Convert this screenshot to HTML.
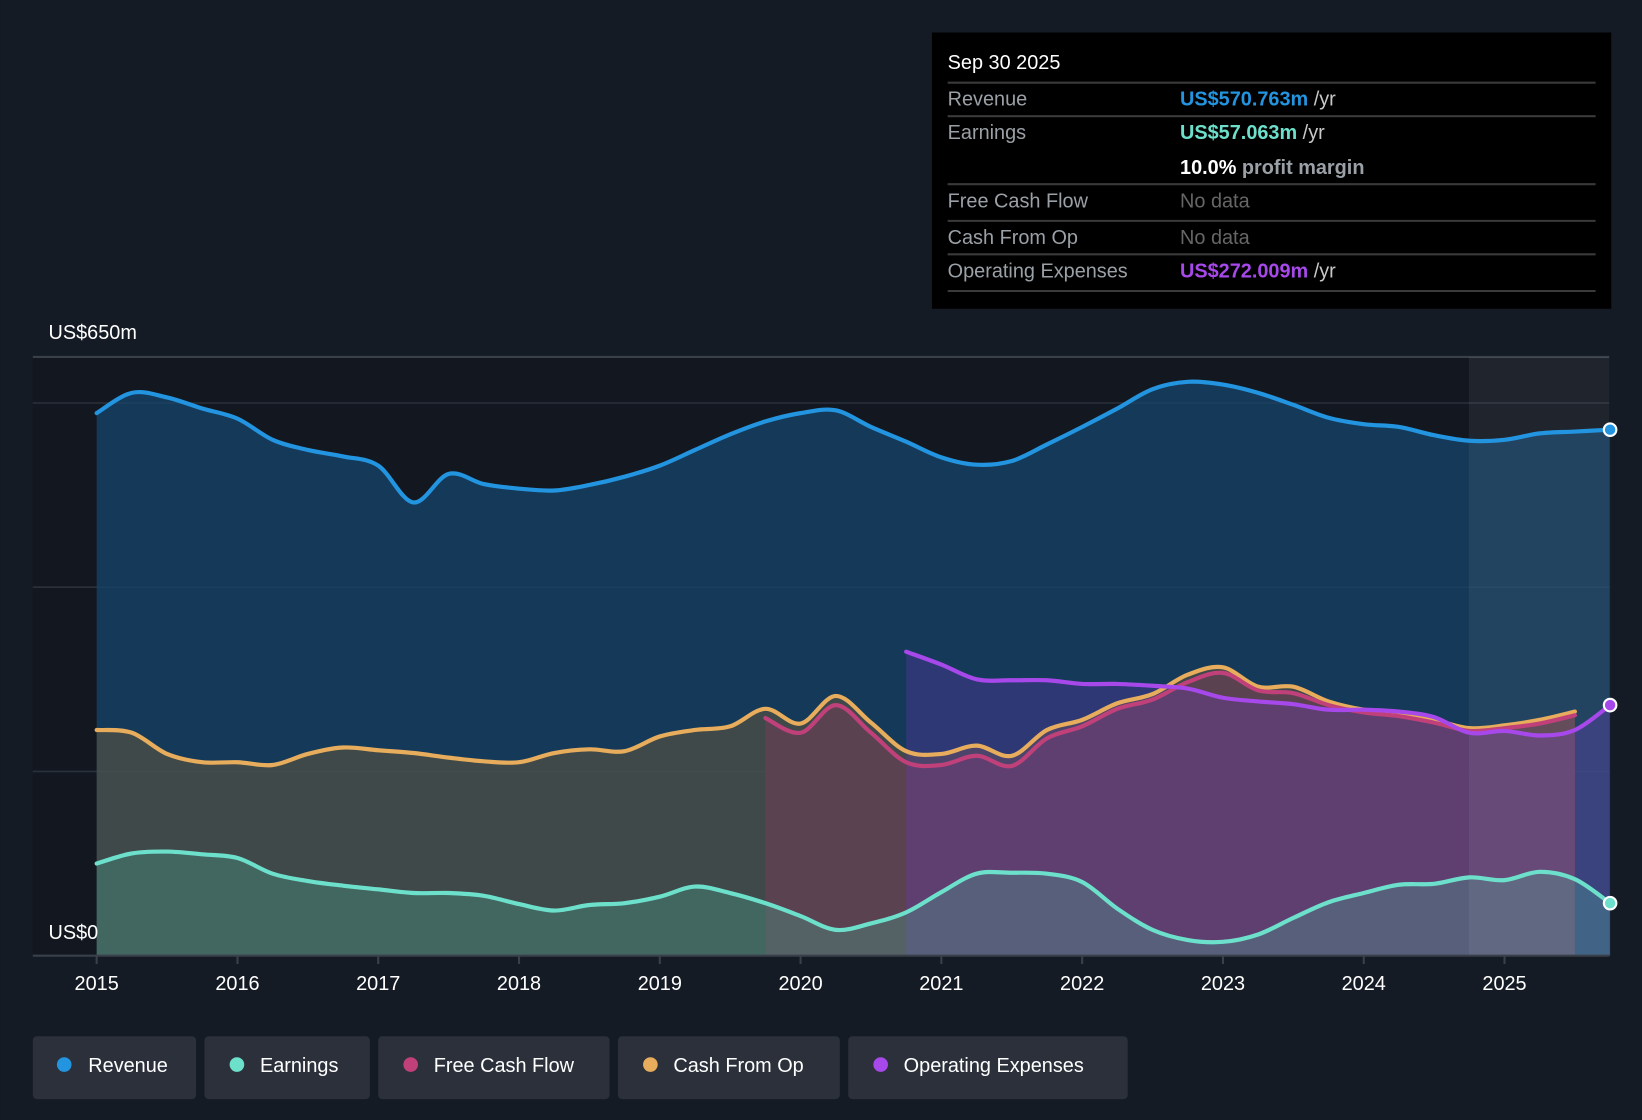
<!DOCTYPE html>
<html><head><meta charset="utf-8"><style>
html,body{margin:0;padding:0;background:#151b24;}
svg{display:block;font-family:"Liberation Sans",sans-serif;}
</style></head><body>
<svg id="chart" width="1642" height="1120" viewBox="0 0 1568 1070" xmlns="http://www.w3.org/2000/svg">
<rect x="0" y="0" width="1568" height="1070" fill="#151b24"/>
<rect x="31" y="341" width="1506" height="572" fill="#131820"/>
<g id="grid"></g>
<g id="areas"></g>
<rect x="1403" y="341" width="134" height="572" fill="#ffffff" opacity="0.06"/>
<g id="lines"></g>
<line x1="31" y1="913" x2="1537" y2="913" stroke="#3a404a" stroke-width="2"/>
<g id="xticks"></g>
<text x="46" y="324" fill="#fff" font-size="19">US$650m</text>
<text x="46" y="897" fill="#fff" font-size="19">US$0</text>

<g>
<rect x="890" y="31" width="649" height="264" fill="#000"/>
<text x="905" y="66" fill="#fff" font-size="19">Sep 30 2025</text>
<g stroke="#3a3a3a" stroke-width="2">
<line x1="905" y1="79" x2="1524" y2="79"/><line x1="905" y1="111" x2="1524" y2="111"/>
<line x1="905" y1="176" x2="1524" y2="176"/><line x1="905" y1="211" x2="1524" y2="211"/>
<line x1="905" y1="243" x2="1524" y2="243"/><line x1="905" y1="278" x2="1524" y2="278"/></g>
<g font-size="19" fill="#9aa0a6">
<text x="905" y="101">Revenue</text><text x="905" y="133">Earnings</text>
<text x="905" y="198">Free Cash Flow</text><text x="905" y="233">Cash From Op</text>
<text x="905" y="265">Operating Expenses</text></g>
<text x="1127" y="101" font-size="19" font-weight="bold" fill="#2394e0">US$570.763m <tspan fill="#c8c8c8" font-weight="normal">/yr</tspan></text>
<text x="1127" y="133" font-size="19" font-weight="bold" fill="#6de0cc">US$57.063m <tspan fill="#c8c8c8" font-weight="normal">/yr</tspan></text>
<text x="1127" y="166" font-size="19" font-weight="bold" fill="#fff">10.0% <tspan fill="#9aa0a6">profit margin</tspan></text>
<text x="1127" y="198" font-size="19" fill="#666">No data</text>
<text x="1127" y="233" font-size="19" fill="#666">No data</text>
<text x="1127" y="265" font-size="19" font-weight="bold" fill="#a748ea">US$272.009m <tspan fill="#c8c8c8" font-weight="normal">/yr</tspan></text>
</g>

<g id="legend" font-size="19" fill="#fff">
<g><rect x="31" y="990" width="156" height="60" rx="4" fill="#2b303a"/><circle cx="61" cy="1017" r="7" fill="#2394e0"/><text x="84" y="1024" fill="#fff">Revenue</text></g>
<g><rect x="195" y="990" width="158" height="60" rx="4" fill="#2b303a"/><circle cx="226" cy="1017" r="7" fill="#6de0cc"/><text x="248" y="1024" fill="#fff">Earnings</text></g>
<g><rect x="361" y="990" width="221" height="60" rx="4" fill="#2b303a"/><circle cx="392" cy="1017" r="7" fill="#c0407a"/><text x="414" y="1024" fill="#fff">Free Cash Flow</text></g>
<g><rect x="590" y="990" width="212" height="60" rx="4" fill="#2b303a"/><circle cx="621" cy="1017" r="7" fill="#e8ad5c"/><text x="643" y="1024" fill="#fff">Cash From Op</text></g>
<g><rect x="810" y="990" width="267" height="60" rx="4" fill="#2b303a"/><circle cx="841" cy="1017" r="7" fill="#a748ea"/><text x="863" y="1024" fill="#fff">Operating Expenses</text></g>
</g>
</svg>
<script>
const years = [2015,2016,2017,2018,2019,2020,2021,2022,2023,2024,2025];
const gridValues = [200,400,600,650];
const revenue = [589,611,606,594,583,560,549,542,532,492,523,512,507,505,511,520,532,549,566,580,589,592,574,558,541,533,537,555,574,594,615,623,620,611,598,584,577,574,565,559,560,567,569,571];
const revenueStart = 2015;
const earnings = [100,111,113,110,106,89,81,76,72,68,68,65,56,49,55,57,64,75,68,57,43,28,35,47,69,89,90,89,80,51,28,17,15,23,41,58,68,77,78,85,82,91,83,57];
const earningsStart = 2015;
const cashFromOp = [245,242,219,210,210,207,219,226,223,220,215,211,210,220,224,222,238,245,249,268,252,282,253,222,219,228,217,245,256,274,284,305,313,292,292,276,267,263,256,247,250,256,265];
const cfoStart = 2015;
const freeCashFlow = [258,242,272,242,210,207,217,206,236,249,268,278,297,307,288,285,272,264,260,253,244,247,252,261];
const fcfStart = 2019.75;
const opex = [330,316,300,299,299,295,295,293,290,280,276,273,267,267,265,259,242,244,239,245,272];
const opexStart = 2020.75;

const NS='http://www.w3.org/2000/svg';
const X0=92, PXY=134.5, Y0=913, PXV=572/650;
function xs(t){return X0+(t-2015)*PXY;}
function ys(v){return Y0-v*PXV;}
function pts(arr,start){return arr.map((v,i)=>[xs(start+i*0.25),ys(v)]);}
function smooth(p){let d='M'+p[0][0]+','+p[0][1];
 for(let i=0;i<p.length-1;i++){const a=p[i-1]||p[i],b=p[i],c=p[i+1],e=p[i+2]||c;
  d+=' C'+(b[0]+(c[0]-a[0])/6)+','+(b[1]+(c[1]-a[1])/6)+' '+(c[0]-(e[0]-b[0])/6)+','+(c[1]-(e[1]-b[1])/6)+' '+c[0]+','+c[1];}
 return d;}
function mk(tag,attrs,parent){const el=document.createElementNS(NS,tag);for(const k in attrs)el.setAttribute(k,attrs[k]);document.getElementById(parent).appendChild(el);return el;}

gridValues.forEach(v=>{
 const l=mk('line',{x1:31,x2:1537,y1:ys(v),y2:ys(v),stroke:v===650?'#3a404a':'#2a313b','stroke-width':v===650?2:1.5},'grid');
 
 
});
years.forEach(y=>{
 const t=mk('line',{x1:xs(y),x2:xs(y),y1:913,y2:921,stroke:'#3a404a','stroke-width':2},'xticks');
 
 
 const tx=mk('text',{x:xs(y),y:946,fill:'#fff','font-size':19,'text-anchor':'middle'},'xticks');
 tx.textContent=y;
 
 
});
const series=[
 {n:'revenue',a:revenue,s:revenueStart,c:'#2394e0',f:'#17446b',o:0.75},
 {n:'cash-from-op',a:cashFromOp,s:cfoStart,c:'#e8ad5c',f:'#6b5a3a',o:0.5},
 {n:'free-cash-flow',a:freeCashFlow,s:fcfStart,c:'#c0407a',f:'#7a3a5a',o:0.45},
 {n:'operating-expenses',a:opex,s:opexStart,c:'#a748ea',f:'#6a38b8',o:0.3},
 {n:'earnings',a:earnings,s:earningsStart,c:'#6de0cc',f:'#4aa894',o:0.3}
];
series.forEach(s=>{
 const p=pts(s.a,s.s),d=smooth(p);
 const ar=mk('path',{d:d+' L'+p[p.length-1][0]+','+Y0+' L'+p[0][0]+','+Y0+' Z',fill:s.f,opacity:s.o},'areas');
 
 
 const ln=mk('path',{d:d,fill:'none',stroke:s.c,'stroke-width':4,'stroke-linejoin':'round','stroke-linecap':'round'},'lines');
 
 
});
[[revenue,revenueStart,'#2394e0','revenue-end-dot'],[opex,opexStart,'#a748ea','opex-end-dot'],[earnings,earningsStart,'#6de0cc','earnings-end-dot']].forEach(r=>{
 const i=r[0].length-1;
 const c=mk('circle',{cx:xs(r[1]+i*0.25),cy:ys(r[0][i]),r:6,fill:r[2],stroke:'#fff','stroke-width':2},'lines');
 
 
});
</script>
</body></html>
